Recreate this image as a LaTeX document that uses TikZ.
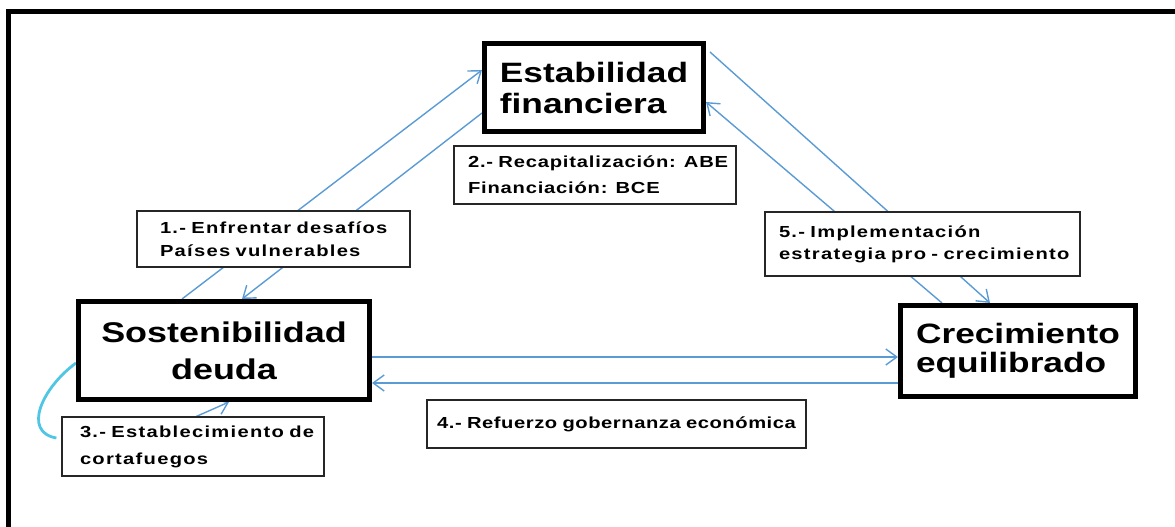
\documentclass[tikz,border=0pt]{standalone}
\usepackage{fontspec}
\setmainfont{Liberation Sans}
\newfontfamily\bigfont[FakeStretch=1.26]{Liberation Sans}
\newfontfamily\smallfont[FakeStretch=1.26,LetterSpace=8]{Liberation Sans}
\newfontfamily\smallfontb[FakeStretch=1.26,LetterSpace=5]{Liberation Sans}
\newfontfamily\smallfontc[FakeStretch=1.26,LetterSpace=3.5]{Liberation Sans}
\usetikzlibrary{arrows.meta,calc,backgrounds}
\definecolor{lineblue}{RGB}{91,155,213}
\definecolor{loopcyan}{RGB}{80,198,228}
\hbadness=10000 \hfuzz=100pt
\begin{document}
\begin{tikzpicture}[x=1pt,y=-1pt,
  bigbox/.style={draw=black, line width=5pt, fill=white, inner sep=0pt,
    font=\bigfont\bfseries\fontsize{28}{31}\selectfont},
  lblbox/.style={draw=black!85, line width=1.2pt, fill=white, inner ysep=0pt,
    font=\smallfont\bfseries\fontsize{16}{24}\selectfont, align=left},
  conn/.style={draw=lineblue, line width=1.4pt},
  tipend/.style={-{Straight Barb[length=11pt,width=16pt]}},
  frame/.style={draw=black, line width=5pt}
]
\useasboundingbox (0,0) rectangle (1175,527);
\draw[frame] (8.5,527) -- (8.5,12) -- (1175,12);

% main boxes
\node[bigbox, align=left, minimum width=219pt, minimum height=88pt] (estab) at (594,87.5) {Estabilidad\\financiera};
\node[bigbox, align=center, minimum width=291pt, minimum height=98pt,
  font=\bigfont\bfseries\fontsize{28.5}{37}\selectfont] (sost) at (224,350.5) {Sostenibilidad\\deuda};
\node[bigbox, align=left, minimum width=235pt, minimum height=91pt,
  font=\bigfont\bfseries\fontsize{28}{29}\selectfont] (crec) at (1018,351) {Crecimiento\\equilibrado};

% label boxes
\node[lblbox, inner xsep=23pt, text width=227pt, minimum height=56pt,
  font=\smallfont\bfseries\fontsize{16}{23}\selectfont] (b1) at (273.5,239) {\mbox{1.- Enfrentar desafíos}\\\mbox{Países vulnerables}};
\node[lblbox, inner xsep=14pt, text width=254pt, minimum height=58pt,
  font=\smallfontb\bfseries\fontsize{16}{26}\selectfont] (b2) at (595,175) {\mbox{2.- Recapitalización: ABE}\\\mbox{Financiación: BCE}};
\node[lblbox, inner xsep=18pt, text width=226pt, minimum height=59pt,
  font=\smallfont\bfseries\fontsize{16}{27}\selectfont] (b3) at (193,446.5) {\mbox{3.- Establecimiento de}\\\mbox{cortafuegos}};
\node[lblbox, inner xsep=8pt, text width=363pt, minimum height=48pt, align=center,
  font=\smallfontc\bfseries\fontsize{16}{24}\selectfont] (b4) at (616.5,424) {\mbox{4.- Refuerzo gobernanza económica}};
\node[lblbox, inner xsep=14pt, text width=287pt, minimum height=64pt,
  font=\smallfont\bfseries\fontsize{16}{22}\selectfont] (b5) at (922.5,244) {\mbox{5.- Implementación}\\\mbox{estrategia pro - crecimiento}};

\begin{scope}[on background layer]
  \draw[conn, tipend] ([xshift=106pt]sost.north west) -- ([yshift=17.5pt]estab.west);
  \draw[conn, tipend] ([yshift=-25.5pt]estab.west) -- ([xshift=166pt]sost.north west);
  \draw[conn, tipend] ([yshift=35.5pt,xshift=4pt]estab.east) -- ([xshift=92pt]crec.north west);
  \draw[conn, tipend] ([xshift=44pt]crec.north west) -- ([yshift=-14.5pt]estab.east);
  \draw[conn, tipend] ([yshift=-6.5pt]sost.east) -- ([yshift=-6.5pt]sost.east -| crec.west);
  \draw[conn, tipend] ([yshift=-32.5pt]sost.east -| crec.west) -- ([yshift=-32.5pt]sost.east);
  \draw[conn, tipend] ([xshift=135pt]b3.north west) -- ([xshift=153pt]sost.south west);
  \draw[draw=loopcyan, line width=2.8pt] ([yshift=-12.5pt]sost.west) .. controls (42,388) and (22,432) .. ([yshift=8.5pt,xshift=-5pt]b3.west);
\end{scope}
\end{tikzpicture}
\end{document}
